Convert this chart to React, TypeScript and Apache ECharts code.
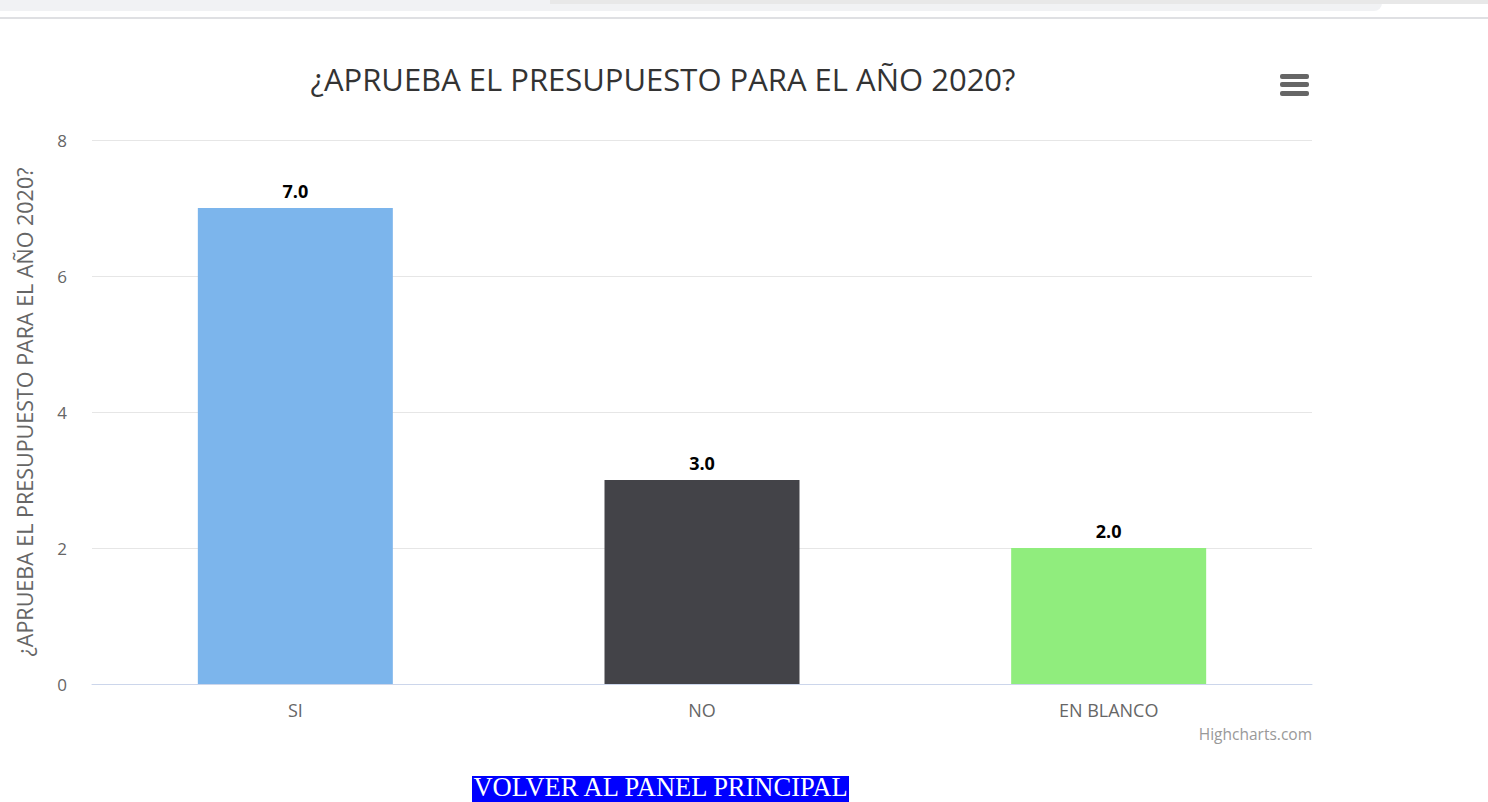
import React, { useEffect, useRef } from "react";
import * as echarts from "echarts";

const categories = ["SI", "NO", "EN BLANCO"];
const values = [7, 3, 2];
const barColors = ["#7cb5ec", "#434348", "#90ed7d"];
const yTicks = { min: 0, max: 8, interval: 2 };
const titleText = "¿APRUEBA EL PRESUPUESTO PARA EL AÑO 2020?";
const yAxisTitle = "¿APRUEBA EL PRESUPUESTO PARA EL AÑO 2020?";
const creditText = "Highcharts.com";
const linkText = "VOLVER AL PANEL PRINCIPAL";

const FONT = "'Open Sans', 'Noto Sans', Arial, sans-serif";

export default function App() {
  const ref = useRef<HTMLDivElement>(null);
  useEffect(() => {
    if (!ref.current) return;
    const chart = echarts.init(ref.current, undefined, { renderer: "svg" });
    chart.setOption({
      animation: false,
      backgroundColor: "#ffffff",
      title: {
        text: titleText,
        left: 658,
        textAlign: "center",
        top: 58,
        textStyle: { fontFamily: FONT, fontSize: 31, fontWeight: "normal", color: "#333333" },
      },
      grid: { left: 92, top: 140, width: 1220, height: 544, containLabel: false },
      xAxis: {
        type: "category",
        data: categories,
        axisLine: { show: true, lineStyle: { color: "#ccd6eb", width: 1 } },
        axisTick: { show: false },
        axisLabel: { color: "#666666", fontFamily: FONT, fontSize: 18, margin: 17 },
        splitLine: { show: false },
      },
      yAxis: {
        type: "value",
        min: yTicks.min,
        max: yTicks.max,
        interval: yTicks.interval,
        name: yAxisTitle,
        nameLocation: "middle",
        nameRotate: 90,
        nameGap: 57,
        nameTextStyle: { color: "#666666", fontFamily: FONT, fontSize: 21.5 },
        axisLine: { show: false },
        axisTick: { show: false },
        axisLabel: { color: "#666666", fontFamily: FONT, fontSize: 17, margin: 25 },
        splitLine: { lineStyle: { color: "#e6e6e6", width: 1 } },
      },
      series: [
        {
          type: "bar",
          data: values.map((v, i) => ({ value: v, itemStyle: { color: barColors[i] } })),
          barWidth: 195,
          label: {
            show: true,
            position: "top",
            distance: 8,
            formatter: (p: any) => Number(p.value).toFixed(1),
            color: "#000000",
            fontFamily: FONT,
            fontSize: 18,
            fontWeight: "bold",
            textBorderColor: "#ffffff",
            textBorderWidth: 2,
          },
        },
      ],
      graphic: [
        // browser chrome remnants
        { type: "rect", shape: { x: 0, y: 0, width: 1382, height: 11, r: [0, 0, 8, 0] }, style: { fill: "#f1f2f4" }, silent: true },
        { type: "rect", shape: { x: 550, y: 0, width: 938, height: 4 }, style: { fill: "#e8e8e8" }, silent: true },
        { type: "rect", shape: { x: 0, y: 17, width: 1488, height: 2 }, style: { fill: "#dfe0e3" }, silent: true },
        // export menu icon
        { type: "rect", shape: { x: 1280, y: 74, width: 29, height: 5, r: 2 }, style: { fill: "#666666" }, silent: true },
        { type: "rect", shape: { x: 1280, y: 82, width: 29, height: 5, r: 2 }, style: { fill: "#666666" }, silent: true },
        { type: "rect", shape: { x: 1280, y: 91, width: 29, height: 5, r: 2 }, style: { fill: "#666666" }, silent: true },
        // credits
        {
          type: "text",
          x: 1312,
          y: 734,
          style: { text: creditText, fill: "#999999", font: `15.5px ${FONT}`, textAlign: "right", textVerticalAlign: "middle" },
          silent: true,
        },
        // bottom link
        { type: "rect", shape: { x: 472, y: 776, width: 377, height: 26 }, style: { fill: "#0000ff" }, silent: true },
        {
          type: "text",
          x: 660.5,
          y: 787,
          style: {
            text: linkText,
            fill: "#ffffff",
            font: "26.5px 'Liberation Serif', 'Times New Roman', serif",
            textAlign: "center",
            textVerticalAlign: "middle",
          },
          silent: true,
        },
      ],
    });
    return () => chart.dispose();
  }, []);
  return (
    <div
      ref={ref}
      style={{ position: "absolute", left: 0, top: 0, width: 1488, height: 802, overflow: "hidden" }}
    />
  );
}
